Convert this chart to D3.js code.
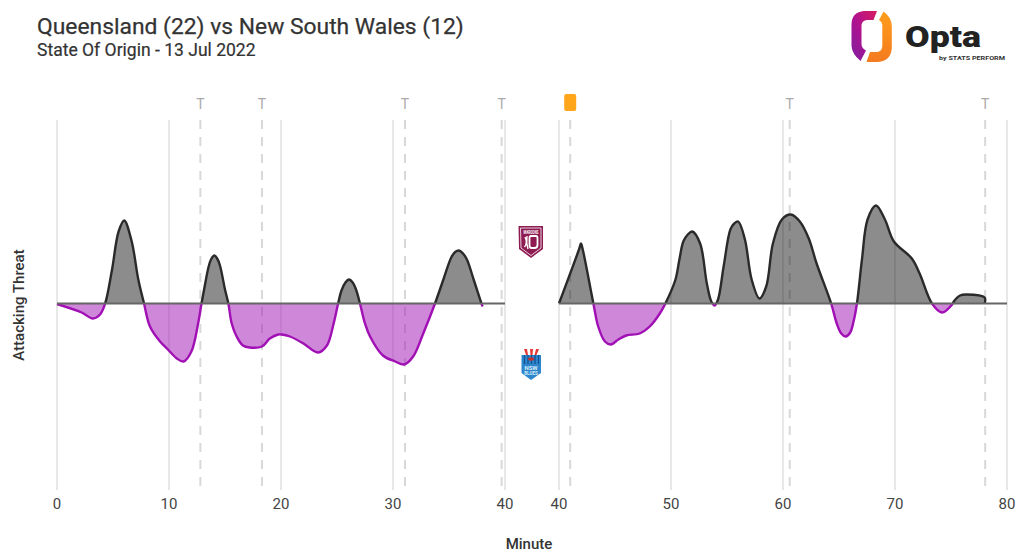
<!DOCTYPE html>
<html><head><meta charset="utf-8">
<script src="https://cdn.jsdelivr.net/npm/d3@7"></script>
<style>html,body{margin:0;background:#fff}svg{display:block}text{font-family:Roboto,sans-serif}</style>
</head><body><svg id="c" width="1024" height="560"></svg>
<script>
const titleText = "Queensland (22) vs New South Wales (12)";
const subtitleText = "State Of Origin - 13 Jul 2022";
const firstHalfTicks = [0,10,20,30,40];
const secondHalfTicks = [40,50,60,70,80];
const firstHalfTries = [12.8,18.3,31.07,39.7];
const secondHalfTries = [60.6,78.05];
const yellowCards = [41];
const firstMinutes = [0,2.2,3.2,3.84,4.3,4.9,5.5,6,6.67,7.26,7.77,8.3,9.2,9.9,10.7,11.3,12,12.6,12.9,13.2,13.5,13.75,14.05,14.3,14.55,15,15.3,15.6,16.04,16.6,17.2,18.3,19,19.76,20.06,20.8,22,23.3,24.1,24.7,25.1,25.4,25.75,26.07,26.4,26.7,27.05,27.5,27.95,29.1,30.2,31,31.8,32.7,33.75,34.5,35.2,35.55,35.9,36.25,36.6,37.2,37.9,38];
const firstThreat = [-0.5,-9,-15,-11,0,33,72,83,62,24,0,-23,-38,-46,-55,-58,-48,-20,0,18,35,44,48,45,38,14,0,-20,-33,-42,-44,-43,-35,-31,-31,-33,-40,-49,-42,-20,0,13,21,24,21,14,0,-20,-33,-52,-58,-61,-53,-30,0,24,46,51.5,53,50,44,24,0,-3];
const secondMinutes = [40,41.8,41.96,42.12,43.07,43.5,44.1,44.64,45.3,46,47.2,48.1,49,49.5,50.4,50.75,51.1,51.5,51.9,52.6,53.2,53.6,53.9,54.2,54.7,55.3,55.65,56,56.6,57.2,57.9,58.5,59.1,59.9,60.7,61.5,62.3,63,64.3,64.8,65.2,65.6,66,66.3,66.6,67.05,67.55,68.3,69.1,69.9,71.5,72.2,73.3,74.2,75.1,75.25,75.8,76.4,78,78.01];
const secondThreat = [0,54.5,60,54,0,-23,-38,-41,-36,-32,-30,-23,-10,0,24,44,62,69,72,60,20,2,-2,4,37,74,80,82,64,24,5,17,60,84,89,82,65,40,0,-20,-30,-33,-29,-18,0,44,84,98,84,62,45,30,0,-9,-1,2,8,9,6,0];

const svg = d3.select("#c");
const W = 1024;
const plotTop = 120, plotBottom = 490;
const x1 = d3.scaleLinear().domain([0,40]).range([57,505]);
const x2 = d3.scaleLinear().domain([40,80]).range([559,1007]);
const y = d3.scaleLinear().domain([-186.5,183.5]).range([plotBottom,plotTop]);
const zeroY = y(0);

const defs = svg.append("defs");
defs.append("clipPath").attr("id","above").append("rect").attr("x",0).attr("y",0).attr("width",W).attr("height",zeroY);
defs.append("clipPath").attr("id","below").append("rect").attr("x",0).attr("y",zeroY).attr("width",W).attr("height",560-zeroY);
const g1 = defs.append("linearGradient").attr("id","lg1").attr("x1",0).attr("y1",1).attr("x2",1).attr("y2",0);
g1.append("stop").attr("offset","0").attr("stop-color","#7d1fa0");
g1.append("stop").attr("offset","0.5").attr("stop-color","#b0128f");
g1.append("stop").attr("offset","1").attr("stop-color","#d81b60");
const g2 = defs.append("linearGradient").attr("id","lg2").attr("x1",0).attr("y1",0).attr("x2",0).attr("y2",1);
g2.append("stop").attr("offset","0").attr("stop-color","#ff9e1b");
g2.append("stop").attr("offset","1").attr("stop-color","#f47b20");

// titles
svg.append("text").attr("x",37).attr("y",34).attr("font-size",22.85).attr("font-weight",400).attr("fill","#333").attr("stroke","#333").attr("stroke-width",0.25).text(titleText);
svg.append("text").attr("x",37).attr("y",56).attr("font-size",17.55).attr("font-weight",400).attr("fill","#333").attr("stroke","#333").attr("stroke-width",0.2).text(subtitleText);

// gridlines
function grid(scale,ticks){
  svg.append("g").selectAll("line").data(ticks).join("line")
    .attr("x1",d=>scale(d)).attr("x2",d=>scale(d)).attr("y1",plotTop).attr("y2",plotBottom)
    .attr("stroke","#e8e8e8").attr("stroke-width",2);
  svg.append("g").selectAll("text").data(ticks).join("text")
    .attr("x",d=>scale(d)).attr("y",509).attr("text-anchor","middle")
    .attr("font-size",15).attr("fill","#444").text(d=>d);
}
grid(x1,firstHalfTicks); grid(x2,secondHalfTicks);

// try markers
function tries(scale,mins){
  svg.append("g").selectAll("line").data(mins).join("line")
    .attr("x1",d=>scale(d)).attr("x2",d=>scale(d)).attr("y1",plotTop).attr("y2",plotBottom)
    .attr("stroke","#d8d8d8").attr("stroke-width",2).attr("stroke-dasharray","9 8");
  svg.append("g").selectAll("text").data(mins).join("text")
    .attr("x",d=>scale(d)).attr("y",108.5).attr("text-anchor","middle")
    .attr("font-size",14).attr("fill","#aaa").text("T");
}
tries(x1,firstHalfTries); tries(x2,secondHalfTries);
svg.append("g").selectAll("line").data(yellowCards).join("line")
  .attr("x1",d=>x2(d)).attr("x2",d=>x2(d)).attr("y1",plotTop).attr("y2",plotBottom)
  .attr("stroke","#d8d8d8").attr("stroke-width",2).attr("stroke-dasharray","9 8");
svg.append("g").selectAll("rect").data(yellowCards).join("rect")
  .attr("x",d=>x2(d)-6).attr("y",94).attr("width",12).attr("height",17).attr("rx",2)
  .attr("fill","#ffa61a");

// series
function series(scale,mins,vals){
  const data = mins.map((m,i)=>[m,vals[i]]);
  const curve = d3.curveCatmullRom.alpha(0.5);
  const area = d3.area().x(d=>scale(d[0])).y0(zeroY).y1(d=>y(d[1])).curve(curve);
  const line = d3.line().x(d=>scale(d[0])).y(d=>y(d[1])).curve(curve);
  [["above","#000",0.45,"#2a2a2a"],["below","#a010b4",0.5,"#a010b4"]].forEach(([clip,fill,op,stroke])=>{
    const gg = svg.append("g").attr("clip-path",`url(#${clip})`);
    gg.append("path").datum(data).attr("d",area).attr("fill",fill).attr("fill-opacity",op);
    gg.append("path").datum(data).attr("d",line).attr("fill","none").attr("stroke",stroke).attr("stroke-width",2.4);
  });
}
series(x1,firstMinutes,firstThreat);
series(x2,secondMinutes,secondThreat);

// zero lines
[[x1,0,40],[x2,40,80]].forEach(([s,a,b])=>{
  svg.append("line").attr("x1",s(a)).attr("x2",s(b)).attr("y1",zeroY).attr("y2",zeroY)
    .attr("stroke","#666").attr("stroke-width",2);
});

// axis titles
svg.append("text").attr("x",529).attr("y",549).attr("text-anchor","middle").attr("font-size",15).attr("font-weight",500).attr("fill","#333").text("Minute");
svg.append("text").attr("transform","translate(24,305) rotate(-90)").attr("text-anchor","middle").attr("font-size",15).attr("font-weight",500).attr("fill","#333").text("Attacking Threat");

// Opta logo
svg.append("path").attr("fill","url(#lg1)").attr("d","M877 11 L864 11 Q852 12 851.5 24 L851.5 46 Q852 54 860.5 61 L866 50.5 Q861.5 48 861.5 44 L861.5 25 Q862 20.5 867 20 L873.5 20 Z");
svg.append("path").attr("fill","url(#lg2)").attr("d","M883.5 11.5 Q891.5 17 891.8 26 L891.8 48 Q891 61 878 62 L866.5 62 L870 52 L876 52 Q882 52 882.3 46 L882.3 25 Q882 21.5 879 20 Z");
svg.append("text").attr("x",905).attr("y",47).attr("font-size",30).attr("font-weight",900).attr("fill","#222").attr("textLength",76).attr("lengthAdjust","spacingAndGlyphs").text("Opta");
svg.append("text").attr("x",939).attr("y",60).attr("font-size",6).attr("font-weight",700).attr("fill","#333").attr("textLength",66).attr("lengthAdjust","spacingAndGlyphs").text("by STATS PERFORM");

// Queensland shield
svg.append("path").attr("fill","#8e1c52").attr("d","M518.5 226 L543 226 L543 249 L531 258 L519 249 Z");
svg.append("path").attr("fill","none").attr("stroke","#fff").attr("stroke-width",0.8).attr("d","M520.5 228 L541 228 L541 248 L531 255.5 L521 248 Z");
svg.append("path").attr("fill","none").attr("stroke","#fff").attr("stroke-width",1.8).attr("d","M531 236 L536 236 Q537.5 236 537.5 238 L537.5 245 Q537.5 248 534.5 248 L531.5 248 Q529.5 248 529.5 245 L529.5 238 Q529.5 236 531 236 Z");
svg.append("path").attr("fill","none").attr("stroke","#fff").attr("stroke-width",1.4).attr("d","M525 237 Q528 243 524.5 247 M527 236 Q526 243 528 249");
svg.append("text").attr("x",531).attr("y",233.5).attr("text-anchor","middle").attr("font-size",5).attr("font-weight",700).attr("fill","#fff").attr("textLength",15).attr("lengthAdjust","spacingAndGlyphs").text("MAROONS");

// NSW shield
svg.append("path").attr("fill","#e53935").attr("d","M524 349 L527 349 L528 355 L526 355 Z M530 349 L533 349 L532.5 355 L530.5 355 Z M536 349 L539 349 L536.5 355 L534.5 355 Z");
svg.append("path").attr("fill","#2d86cc").attr("d","M521.5 355 L541 355 L541 373 L531 380 L521.5 373 Z");
svg.append("path").attr("fill","none").attr("stroke","#124f8c").attr("stroke-width",1.2).attr("d","M524.5 355 V364 M528 355 V364 M531.5 355 V364 M535 355 V364 M538.5 355 V364");
svg.append("ellipse").attr("cx",531).attr("cy",359).attr("rx",3).attr("ry",1.7).attr("fill","#c9302c");
svg.append("text").attr("x",531).attr("y",369.5).attr("text-anchor","middle").attr("font-size",6).attr("font-weight",700).attr("fill","#d5ebf8").text("NSW");
svg.append("text").attr("x",531).attr("y",375).attr("text-anchor","middle").attr("font-size",4.5).attr("font-weight",700).attr("fill","#d5ebf8").text("BLUES");
</script></body></html>
